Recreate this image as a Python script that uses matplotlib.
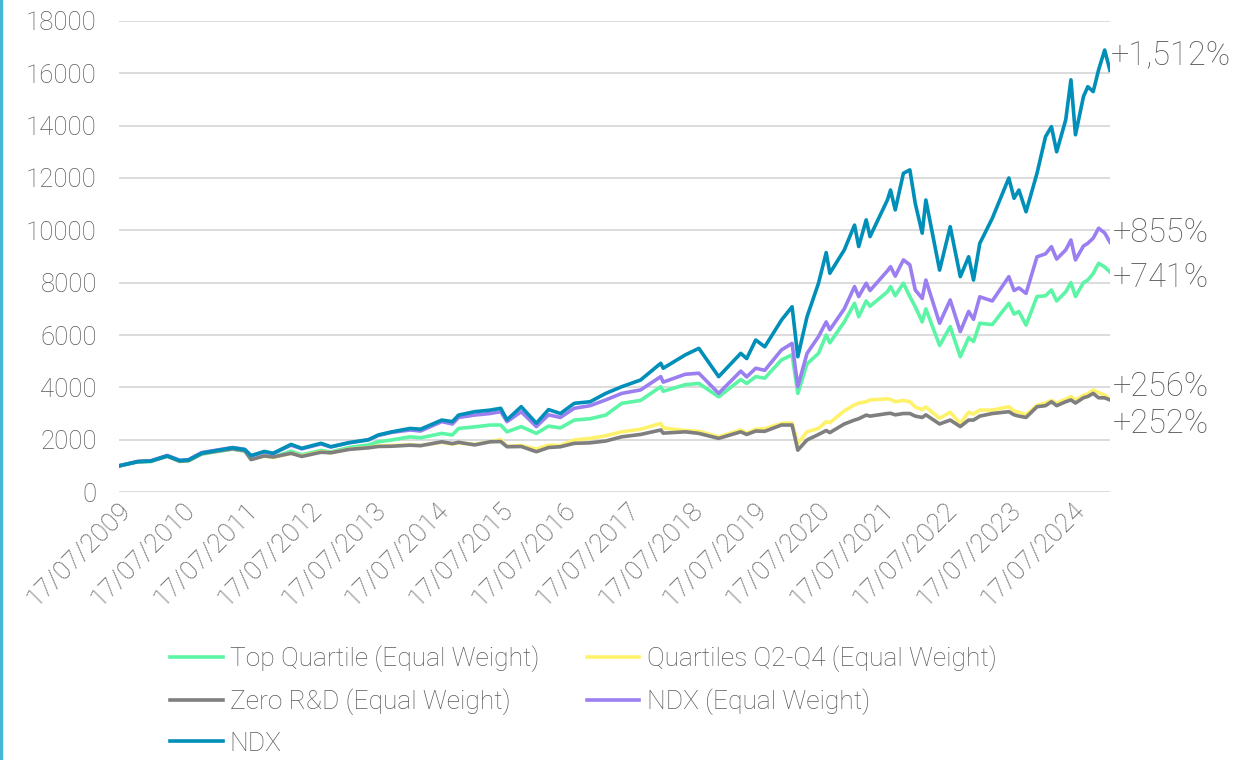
import pandas as pd
import matplotlib.pyplot as plt
import matplotlib.dates as mdates
from matplotlib.patches import Rectangle

dates = [
    "2009-07-17", "2009-11-01", "2010-01-15", "2010-04-20", "2010-07-01", "2010-08-20",
    "2010-11-05", "2011-02-15", "2011-05-01", "2011-07-10", "2011-08-15", "2011-10-30",
    "2011-12-20", "2012-04-01", "2012-06-01", "2012-09-20", "2012-11-15", "2013-03-01",
    "2013-06-20", "2013-08-15", "2013-11-01", "2014-02-15", "2014-04-15", "2014-08-15",
    "2014-10-15", "2014-11-20", "2015-02-20", "2015-05-20", "2015-07-20", "2015-08-25",
    "2015-11-15", "2016-02-10", "2016-04-20", "2016-06-27", "2016-09-15", "2016-12-15",
    "2017-03-15", "2017-06-15", "2017-10-01", "2018-01-25", "2018-02-08", "2018-06-15",
    "2018-09-01", "2018-12-24", "2019-04-30", "2019-06-03", "2019-07-25", "2019-09-15",
    "2019-12-20", "2020-02-19", "2020-03-23", "2020-05-15", "2020-07-20", "2020-09-02",
    "2020-09-23", "2020-12-15", "2021-02-12", "2021-03-08", "2021-04-20", "2021-05-12",
    "2021-08-20", "2021-09-07", "2021-10-04", "2021-11-20", "2021-12-27", "2022-01-27",
    "2022-03-08", "2022-03-29", "2022-06-16", "2022-08-16", "2022-10-13", "2022-11-30",
    "2022-12-28", "2023-02-02", "2023-04-15", "2023-07-19", "2023-08-18", "2023-09-15",
    "2023-10-26", "2023-12-28", "2024-02-15", "2024-03-20", "2024-04-19", "2024-06-10",
    "2024-07-10", "2024-08-05", "2024-09-20", "2024-10-15", "2024-11-15", "2024-12-16",
    "2025-01-20", "2025-02-19",
]

top_quartile = [
    1000, 1150, 1160, 1370, 1170, 1190, 1450, 1560, 1640, 1560, 1250, 1390,
    1330, 1560, 1420, 1590, 1530, 1700, 1800, 1920, 1990, 2110, 2070, 2240,
    2180, 2430, 2490, 2560, 2560, 2300, 2500, 2240, 2520, 2450, 2750, 2800,
    2940, 3390, 3500, 4025, 3850, 4100, 4150, 3640, 4300, 4150, 4410, 4350,
    5050, 5240, 3770, 4900, 5300, 6000, 5700, 6500, 7210, 6700, 7300, 7100,
    7650, 7850, 7500, 7980, 7470, 7080, 6500, 7000, 5600, 6320, 5170, 5900,
    5750, 6450, 6400, 7210, 6800, 6900, 6380, 7470, 7500, 7720, 7300, 7650,
    8000, 7470, 8000, 8100, 8350, 8740, 8600, 8410,
]

quartiles_q2_q4 = [
    1000, 1170, 1190, 1380, 1190, 1210, 1480, 1590, 1660, 1590, 1260, 1380,
    1320, 1480, 1380, 1540, 1500, 1640, 1700, 1760, 1780, 1800, 1780, 1900,
    1830, 1880, 1820, 1920, 2000, 1750, 1780, 1640, 1790, 1780, 1990, 2050,
    2150, 2300, 2400, 2620, 2450, 2350, 2320, 2110, 2370, 2250, 2400, 2420,
    2620, 2640, 1860, 2300, 2430, 2690, 2650, 3100, 3330, 3400, 3450, 3520,
    3560, 3540, 3450, 3500, 3450, 3250, 3150, 3250, 2820, 3050, 2620, 3050,
    2980, 3130, 3130, 3260, 3100, 3050, 2950, 3320, 3400, 3500, 3400, 3550,
    3650, 3500, 3700, 3750, 3900, 3800, 3700, 3560,
]

zero_rd = [
    1000, 1160, 1180, 1370, 1180, 1200, 1470, 1580, 1650, 1580, 1240, 1380,
    1340, 1480, 1360, 1520, 1500, 1630, 1690, 1740, 1750, 1790, 1770, 1920,
    1850, 1900, 1800, 1920, 1930, 1730, 1740, 1540, 1700, 1730, 1860, 1880,
    1950, 2110, 2200, 2370, 2250, 2300, 2240, 2050, 2300, 2200, 2330, 2320,
    2560, 2560, 1600, 1990, 2200, 2350, 2270, 2600, 2750, 2800, 2940, 2900,
    3000, 3010, 2950, 3000, 3000, 2900, 2850, 2950, 2600, 2750, 2500, 2750,
    2750, 2900, 3000, 3070, 2950, 2900, 2850, 3260, 3300, 3450, 3300, 3450,
    3520, 3400, 3600, 3650, 3770, 3600, 3600, 3520,
]

ndx_equal = [
    1000, 1170, 1190, 1400, 1210, 1235, 1510, 1620, 1700, 1630, 1380, 1530,
    1470, 1790, 1650, 1840, 1720, 1880, 1990, 2160, 2280, 2370, 2330, 2690,
    2600, 2850, 2940, 3000, 3070, 2690, 3070, 2500, 2950, 2850, 3200, 3300,
    3520, 3770, 3900, 4410, 4200, 4500, 4540, 3770, 4620, 4400, 4730, 4650,
    5430, 5680, 4030, 5300, 5940, 6500, 6200, 7000, 7850, 7470, 7980, 7700,
    8450, 8610, 8250, 8870, 8680, 7720, 7400, 8100, 6450, 7340, 6130, 6900,
    6600, 7460, 7300, 8230, 7700, 7800, 7590, 8990, 9100, 9375, 8900, 9250,
    9630, 8870, 9400, 9505, 9700, 10080, 9900, 9550,
]

ndx = [
    1000, 1160, 1185, 1380, 1200, 1225, 1490, 1605, 1690, 1620, 1390, 1550,
    1480, 1820, 1670, 1860, 1730, 1890, 2000, 2180, 2300, 2430, 2400, 2750,
    2690, 2940, 3070, 3130, 3200, 2760, 3260, 2630, 3150, 3000, 3390, 3450,
    3770, 4025, 4280, 4920, 4730, 5240, 5490, 4410, 5300, 5100, 5810, 5550,
    6570, 7080, 5170, 6700, 7980, 9150, 8360, 9250, 10200, 9380, 10400, 9760,
    11160, 11540, 10780, 12180, 12310, 11030, 9890, 11160, 8480, 10140, 8230, 8990,
    8100, 9500, 10460, 12000, 11225, 11540, 10710, 12180, 13580, 13960, 13000, 14220,
    15750, 13650, 15110, 15490, 15300, 16130, 16890, 16120,
]

names = ["Top Quartile (Equal Weight)", "Quartiles Q2-Q4 (Equal Weight)",
         "Zero R&D (Equal Weight)", "NDX (Equal Weight)", "NDX"]
colors = ["#5CF5A6", "#FFF26B", "#7F7F7F", "#9B7FF0", "#008FB8"]
end_labels = ["+741%", "+256%", "+252%", "+855%", "+1,512%"]
label_offsets = [(3, -6), (3, 12), (3, -24), (3, 9), (1, 15)]

plt.rcParams['font.family'] = ['Roboto', 'DejaVu Sans']
text_color = "#595959"

x = pd.to_datetime(dates)
series = [top_quartile, quartiles_q2_q4, zero_rd, ndx_equal, ndx]

fig = plt.figure(figsize=(12.44, 7.6), dpi=100)
ax = fig.add_axes([0.0957, 0.3526, 0.7965, 0.6198])

lines = []
for vals, name, col in zip(series, names, colors):
    ln, = ax.plot(x, vals, color=col, lw=2.6, label=name, solid_joinstyle="round")
    lines.append(ln)

# end-of-line performance labels
for vals, lab, off in zip(series, end_labels, label_offsets):
    ax.annotate(lab, xy=(x[-1], vals[-1]), xytext=off, textcoords="offset pixels",
                ha="left", va="center", fontsize=23.5, color=text_color,
                fontweight="light", annotation_clip=False)

ax.set_ylim(0, 18000)
ax.set_yticks(range(0, 18001, 2000))
ax.set_xlim(x[0], x[-1])
ticks = pd.date_range("2009-07-17", "2024-07-17", freq=pd.DateOffset(years=1))
ax.set_xticks(ticks)
ax.xaxis.set_major_formatter(mdates.DateFormatter("%d/%m/%Y"))

ax.grid(axis="y", color="#D9D9D9", lw=1.3)
ax.set_axisbelow(True)
for s in ax.spines.values():
    s.set_visible(False)
ax.tick_params(axis="y", length=0, pad=16, labelsize=18.5, labelcolor=text_color)
ax.tick_params(axis="x", length=0, pad=4, labelsize=19, labelcolor=text_color)
for t in ax.get_yticklabels():
    t.set_fontweight("light")
for t in ax.get_xticklabels():
    t.set_rotation(45)
    t.set_ha("right")
    t.set_rotation_mode("anchor")
    t.set_fontweight("light")

order = [0, 2, 4, 1, 3]
leg = fig.legend([lines[i] for i in order], [names[i] for i in order],
                 loc="upper left", bbox_to_anchor=(0.1281, 0.1649), ncol=2,
                 frameon=False, fontsize=19, handlelength=2.0, handletextpad=0.27,
                 columnspacing=1.8, labelspacing=0.63, borderaxespad=0)
for t in leg.get_texts():
    t.set_color(text_color)
    t.set_fontweight("light")

fig.patches.append(Rectangle((0, 0), 0.0018, 1, transform=fig.transFigure,
                             color="#45B6D6", zorder=5))

fig.savefig("out.png", dpi=100)
